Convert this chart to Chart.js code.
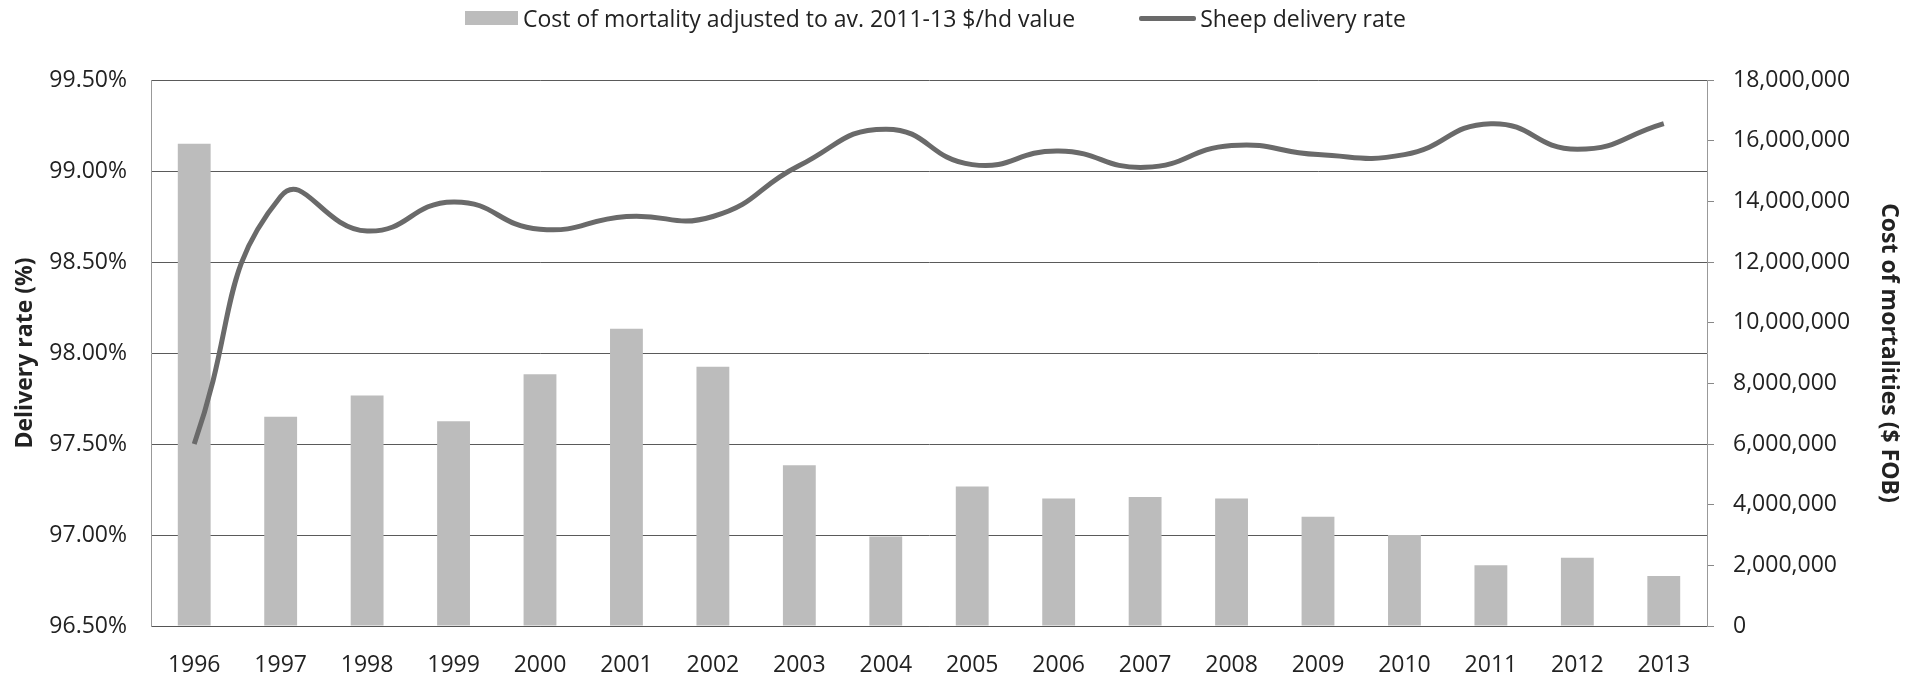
<!DOCTYPE html>
<html>
<head>
<meta charset="utf-8">
<script src="https://cdn.jsdelivr.net/npm/chart.js@4.4.1/dist/chart.umd.min.js"></script>
<style>
  html, body { margin: 0; padding: 0; background: #fff; }
  #wrap { position: relative; width: 1908px; height: 680px; }
  #legend {
    position: absolute; left: 465px; top: 2px;
    display: flex; align-items: center;
    font-family: 'Open Sans', sans-serif; font-size: 23px; color: #222;
  }
  .item { display: flex; align-items: center; margin-right: 64px; }
  .item:last-child { margin-right: 0; }
  .sw-bar { width: 53px; height: 14px; background: #bcbcbc; margin-right: 5px; }
  .sw-line { width: 57px; height: 5px; background: #6a6a6a; margin-right: 4px; border-radius: 2px; }
</style>
</head>
<body>
<div id="wrap">
  <canvas id="chart" width="1908" height="680"></canvas>
  <div id="legend"></div>
</div>
<script>
// years on the x axis
const years = ['1996', '1997', '1998', '1999', '2000', '2001', '2002', '2003', '2004',
  '2005', '2006', '2007', '2008', '2009', '2010', '2011', '2012', '2013'];

// cost of mortality, $ FOB (right axis)
const mortalityCost = [15900000, 6900000, 7600000, 6750000, 8300000, 9800000, 8550000, 5300000, 2950000,
  4600000, 4200000, 4250000, 4200000, 3600000, 3000000, 2000000, 2250000, 1650000];

// sheep delivery rate, % (left axis)
const deliveryRate = [97.50, 98.86, 98.67, 98.83, 98.68, 98.75, 98.75, 99.03, 99.23,
  99.035, 99.11, 99.02, 99.14, 99.09, 99.09, 99.26, 99.12, 99.26];

const costLabel = 'Cost of mortality adjusted to av. 2011-13 $/hd value';
const rateLabel = 'Sheep delivery rate';

Chart.defaults.font.family = "'Open Sans', sans-serif";
Chart.defaults.font.size = 23;
Chart.defaults.color = '#222';

const chart = new Chart(document.getElementById('chart'), {
  type: 'bar',
  data: {
    labels: years,
    datasets: [
      {
        type: 'line',
        label: rateLabel,
        data: deliveryRate,
        yAxisID: 'y',
        borderColor: '#6a6a6a',
        borderWidth: 5,
        pointRadius: 0,
        tension: 0.5,
        fill: false,
        order: 0
      },
      {
        type: 'bar',
        label: costLabel,
        data: mortalityCost,
        yAxisID: 'y2',
        backgroundColor: '#bcbcbc',
        borderWidth: 0,
        categoryPercentage: 1,
        barPercentage: 0.38,
        order: 1
      }
    ]
  },
  options: {
    responsive: false,
    devicePixelRatio: 1,
    animation: false,
    layout: { padding: { top: 80, left: 0, right: 0, bottom: 0 } },
    plugins: {
      legend: { display: false },
      tooltip: { enabled: false }
    },
    scales: {
      x: {
        grid: { display: false, drawTicks: false },
        border: { display: true, color: '#555', width: 1 },
        ticks: { padding: 26, maxRotation: 0, autoSkip: false },
        afterFit: s => { s.height = 54; }
      },
      y: {
        position: 'left',
        min: 96.5,
        max: 99.5,
        ticks: {
          stepSize: 0.5,
          padding: 24,
          callback: v => v.toFixed(2) + '%'
        },
        grid: { color: '#5a5a5a', lineWidth: 1, drawTicks: false },
        border: { display: true, color: '#999', width: 1 },
        title: {
          display: true,
          text: 'Delivery rate (%)',
          font: { weight: 'bold', size: 23 },
          padding: { top: 12, bottom: 0 }
        },
        afterFit: s => { s.width = 151; }
      },
      y2: {
        position: 'right',
        min: 0,
        max: 18000000,
        ticks: {
          stepSize: 2000000,
          padding: 19,
          callback: v => v.toLocaleString('en-US')
        },
        grid: { drawOnChartArea: false, drawTicks: true, tickLength: 7, color: '#888' },
        border: { display: true, color: '#999', width: 1 },
        title: {
          display: true,
          text: 'Cost of mortalities ($ FOB)',
          font: { weight: 'bold', size: 23 },
          padding: { top: 6, bottom: 0 }
        },
        afterFit: s => { s.width = 201; }
      }
    }
  }
});

// html legend built from the datasets, bar entry first
const legend = document.getElementById('legend');
[chart.data.datasets[1], chart.data.datasets[0]].forEach(ds => {
  const item = document.createElement('div');
  item.className = 'item';
  const sw = document.createElement('span');
  sw.className = ds.type === 'line' ? 'sw-line' : 'sw-bar';
  const txt = document.createElement('span');
  txt.textContent = ds.label;
  item.appendChild(sw);
  item.appendChild(txt);
  legend.appendChild(item);
});
</script>
</body>
</html>
